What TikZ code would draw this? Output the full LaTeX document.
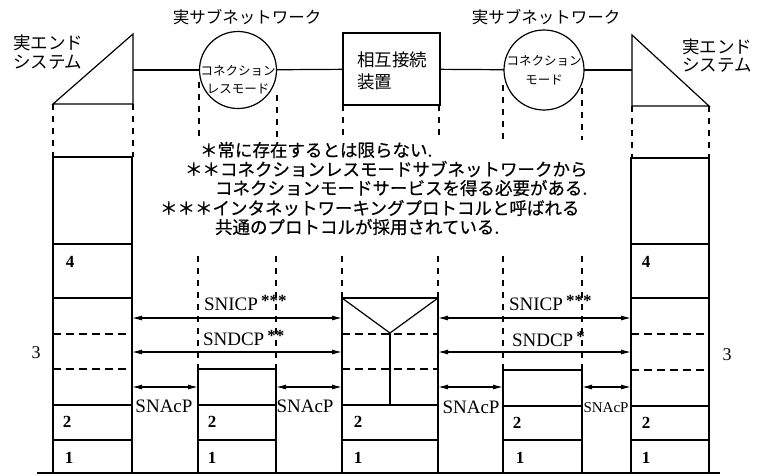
\documentclass[tikz,border=0pt]{standalone}
\usepackage{fontspec}
\setmainfont{Liberation Serif}
\newfontfamily\jp{Noto Sans CJK JP}
\newfontfamily\jpheavy[FakeBold=0.6]{Noto Sans CJK JP}
\usetikzlibrary{arrows.meta}
\newcommand\jpbig{\jp\fontsize{17.5pt}{18pt}\selectfont}
\newcommand\jpnote{\jpheavy\fontsize{17.5pt}{18pt}\selectfont}
\newcommand\jpmid{\jp\fontsize{16.5pt}{17pt}\selectfont}
\newcommand\jpsmall{\jp\fontsize{12.5pt}{13pt}\selectfont}
\newcommand\latlab{\fontsize{19pt}{19pt}\selectfont}
\newcommand\numlab{\bfseries\fontsize{17pt}{17pt}\selectfont}
\newcommand\stars[1]{\raisebox{0.45ex}{\fontsize{17pt}{17pt}\selectfont\bfseries #1}}
\begin{document}
\begin{tikzpicture}[x=1pt,y=-1pt,
  line width=1.2pt,
  txt/.style={inner sep=0pt,outer sep=0pt},
  stackbox/.style={draw,line width=1.5pt,rectangle,inner sep=0pt,outer sep=0pt,anchor=north west},
  dsh/.style={dash pattern=on 8pt off 5pt,line width=1.3pt},
  vdsh/.style={dash pattern=on 6pt off 6pt,line width=1.2pt},
  dbl/.style={line width=1.1pt,{Latex[length=10pt,width=5pt]}-{Latex[length=10pt,width=5pt]}}]
\useasboundingbox (0,0) rectangle (762,475);

% ---- top row ----
\draw (53,104) -- (133,34) -- (133,104) -- cycle;
\draw (632,35) -- (632,106) -- (709,106) -- cycle;
\coordinate (ltri) at (133,70);
\coordinate (rtri) at (632,70);
\node[draw,circle,minimum size=77pt,inner sep=0pt,outer sep=0pt] (c1) at (238,70) {};
\node[draw,circle,minimum size=80pt,inner sep=0pt,outer sep=0pt] (c2) at (544,70) {};
\node[draw,rectangle,minimum width=97pt,minimum height=72pt,inner sep=0pt,outer sep=0pt] (ic) at (391.5,69) {};
\draw (ltri) -- (c1);
\draw (c1) -- (ic);
\draw (ic) -- (c2);
\draw (c2) -- (rtri);

\node[txt] (c1a) at (238,71) {\jpsmall コネクション};
\node[txt] (c1b) at (238,89) {\jpsmall レスモード};
\node[txt] (c2a) at (544,61) {\jpsmall コネクション};
\node[txt] (c2b) at (544,80) {\jpsmall モード};
\node[txt,anchor=west] (ica) at (357,60) {\jpbig 相互接続};
\node[txt,anchor=west] (icb) at (357,82) {\jpbig 装置};

\node[txt] (sub1) at (247,17) {\jpmid 実サブネットワーク};
\node[txt] (sub2) at (546,17) {\jpmid 実サブネットワーク};
\node[txt,anchor=west] (es1a) at (13,43) {\jpbig 実エンド};
\node[txt,anchor=west] (es1b) at (13,62) {\jpbig システム};
\node[txt,anchor=west] (es2a) at (682,47) {\jpbig 実エンド};
\node[txt,anchor=west] (es2b) at (682,65) {\jpbig システム};

% ---- upper dashed projections ----
\draw[vdsh] (53,104) -- (53,157);
\draw[vdsh] (133,104) -- (133,157);
\draw[vdsh] (632,106) -- (632,158);
\draw[vdsh] (709,106) -- (709,158);
\draw[vdsh] (199,82) -- (199,140);
\draw[vdsh] (277,95) -- (277,140);
\draw[vdsh] (343,105) -- (343,140);
\draw[vdsh] (439,105) -- (439,140);
\draw[vdsh] (503,85) -- (503,140);
\draw[vdsh] (582,88) -- (582,140);

% ---- notes ----
\node[txt,anchor=west] (n1) at (200,150) {\jpnote ＊常に存在するとは限らない.};
\node[txt,anchor=west] (n2) at (185,169) {\jpnote ＊＊コネクションレスモードサブネットワークから};
\node[txt,anchor=west] (n3) at (215,188) {\jpnote コネクションモードサービスを得る必要がある.};
\node[txt,anchor=west] (n4) at (160,208) {\jpnote ＊＊＊インタネットワーキングプロトコルと呼ばれる};
\node[txt,anchor=west] (n5) at (215,227) {\jpnote 共通のプロトコルが採用されている.};

% ---- stacks ----
\node[stackbox,minimum width=79pt,minimum height=316pt] (ls) at (53,157) {};
\node[stackbox,minimum width=78pt,minimum height=315pt] (rs) at (631,158) {};
\node[stackbox,minimum width=78pt,minimum height=104pt] (cs1) at (198,369) {};
\node[stackbox,minimum width=96pt,minimum height=175pt] (rt) at (342,298) {};
\node[stackbox,minimum width=79pt,minimum height=103pt] (cs2) at (503,370) {};

% left stack layers
\draw (53,244) -- (132,244);
\draw (53,298) -- (132,298);
\draw[dsh] (53,334) -- (132,334);
\draw[dsh] (53,369) -- (132,369);
\draw (53,405) -- (132,405);
\draw (53,440) -- (132,440);
% right stack layers
\draw (631,244) -- (709,244);
\draw (631,298) -- (709,298);
\draw[dsh] (631,334) -- (709,334);
\draw[dsh] (631,370) -- (709,370);
\draw (631,406) -- (709,406);
\draw (631,440) -- (709,440);
% centre stacks
\draw (198,405) -- (276,405);
\draw (198,440) -- (276,440);
\draw (503,406) -- (582,406);
\draw (503,440) -- (582,440);
% router
\coordinate (yv) at (390,333);
\draw (342,298) -- (yv) -- (438,298);
\draw (yv) -- (390,404);
\draw[dsh] (342,334) -- (438,334);
\draw[dsh] (342,369) -- (438,369);
\draw (342,405) -- (438,405);
\draw (342,440) -- (438,440);
% bottom line
\draw (37,473) -- (720,473);

% ---- lower dashed projections ----
\draw[vdsh] (198,256) -- (198,369);
\draw[vdsh] (276,256) -- (276,369);
\draw[vdsh] (342,256) -- (342,298);
\draw[vdsh] (438,256) -- (438,298);
\draw[vdsh] (503,256) -- (503,370);
\draw[vdsh] (582,256) -- (582,370);

% ---- arrows ----
\coordinate (ya) at (0,318);
\coordinate (yb) at (0,352);
\coordinate (yc) at (0,387);
\draw[dbl] (ls.east |- ya) -- (rt.west |- ya);
\draw[dbl] (ls.east |- yb) -- (rt.west |- yb);
\draw[dbl] (ls.east |- yc) -- (cs1.west |- yc);
\draw[dbl] (cs1.east |- yc) -- (rt.west |- yc);
\draw[dbl] (rt.east |- ya) -- (rs.west |- ya);
\draw[dbl] (rt.east |- yb) -- (rs.west |- yb);
\draw[dbl] (rt.east |- yc) -- (cs2.west |- yc);
\draw[dbl] (cs2.east |- yc) -- (rs.west |- yc);

\node[txt,anchor=west] (l1) at (204,303) {\latlab SNICP\,\stars{***}};
\node[txt,anchor=west] (l2) at (203,338) {\latlab SNDCP\,\stars{**}};
\node[txt,anchor=west] (l3) at (509,303) {\latlab SNICP\,\stars{***}};
\node[txt,anchor=west] (l4) at (512,339) {\latlab SNDCP\,\stars{*}};
\node[txt] (a1) at (164,406) {\latlab SNAcP};
\node[txt] (a2) at (305,406) {\latlab SNAcP};
\node[txt] (a3) at (471,407) {\latlab SNAcP};
\node[txt] (a4) at (606,408) {\fontsize{15pt}{15pt}\selectfont SNAcP};

% ---- layer numbers ----
\node[txt] (n4l) at (70,262) {\numlab 4};
\node[txt] (n4r) at (646,262) {\numlab 4};
\node[txt] (n3l) at (36,353) {\fontsize{18pt}{18pt}\selectfont 3};
\node[txt] (n3r) at (727,355) {\fontsize{18pt}{18pt}\selectfont 3};
\node[txt] (n2a) at (67,422) {\numlab 2};
\node[txt] (n2b) at (212,422) {\numlab 2};
\node[txt] (n2c) at (358,422) {\numlab 2};
\node[txt] (n2d) at (517,423) {\numlab 2};
\node[txt] (n2e) at (646,423) {\numlab 2};
\node[txt] (n1a) at (69,458) {\numlab 1};
\node[txt] (n1b) at (212,458) {\numlab 1};
\node[txt] (n1c) at (358,458) {\numlab 1};
\node[txt] (n1d) at (520,458) {\numlab 1};
\node[txt] (n1e) at (646,458) {\numlab 1};
\end{tikzpicture}
\end{document}
